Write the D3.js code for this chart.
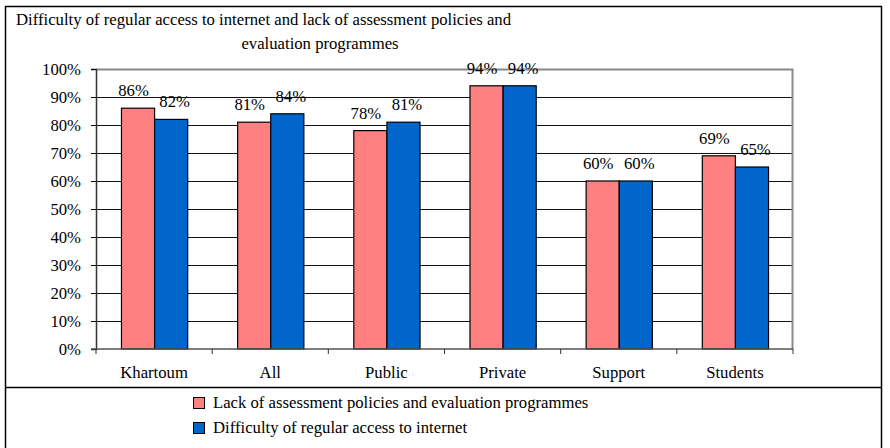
<!DOCTYPE html>
<html>
<head>
<meta charset="utf-8">
<script src="https://cdn.jsdelivr.net/npm/d3@7"></script>
<style>
  body { margin: 0; background: #fff; }
</style>
</head>
<body>
<svg id="chart" width="890" height="448" font-family="'Liberation Serif', 'DejaVu Serif', serif"></svg>
<script>
// data
const categories = ["Khartoum", "All", "Public", "Private", "Support", "Students"];
const seriesNames = ["Lack of assessment policies and evaluation programmes", "Difficulty of regular access to internet"];
const lackValues = [86, 81, 78, 94, 60, 69];
const accessValues = [82, 84, 81, 94, 60, 65];
const yTicks = [0, 10, 20, 30, 40, 50, 60, 70, 80, 90, 100];
const colors = ["#FF8080", "#0066CC"];

const FONT = "Liberation Serif";
const FS = 16.7;

const svg = d3.select("#chart");
const plotLeft = 96, plotRight = 793, plotTop = 69, plotBottom = 349;

// outer frame + legend separator
svg.append("rect").attr("x", 5.5).attr("y", 6.5).attr("width", 876).attr("height", 450)
    .attr("fill", "none").attr("stroke", "#000").attr("stroke-width", 1.5);
svg.append("line").attr("x1", 5).attr("x2", 882).attr("y1", 387.5).attr("y2", 387.5)
    .attr("stroke", "#000").attr("stroke-width", 1.5);

// title
svg.append("text").attr("x", 16).attr("y", 25).attr("font-size", FS).attr("font-family", FONT)
    .text("Difficulty of regular access to internet and lack of assessment policies and");
svg.append("text").attr("x", 320).attr("y", 49).attr("font-size", FS).attr("font-family", FONT)
    .attr("text-anchor", "middle")
    .text("evaluation programmes");

const y = d3.scaleLinear().domain([0, 100]).range([plotBottom, plotTop]);
const x0 = d3.scaleBand().domain(categories).range([plotLeft, plotRight]).paddingInner(0.43).paddingOuter(0.215);
const x1 = d3.scaleBand().domain([0, 1]).range([0, x0.bandwidth()]);

// gridlines
svg.append("g").selectAll("line").data(yTicks.slice(1, -1)).join("line")
    .attr("x1", plotLeft).attr("x2", plotRight)
    .attr("y1", d => Math.round(y(d)) + 0.5).attr("y2", d => Math.round(y(d)) + 0.5)
    .attr("stroke", "#111").attr("stroke-width", 1.2);

// plot frame top/right in grey
svg.append("path")
    .attr("d", `M${plotLeft},${plotTop + 0.5}H${plotRight - 0.5}V${plotBottom}`)
    .attr("fill", "none").attr("stroke", "#888").attr("stroke-width", 2);

// bars
const rows = categories.map((c, i) => ({ cat: c, vals: [lackValues[i], accessValues[i]] }));
const groups = svg.append("g").selectAll("g").data(rows).join("g")
    .attr("transform", d => `translate(${x0(d.cat)},0)`);
groups.selectAll("rect").data(d => d.vals.map((v, k) => ({ v, k }))).join("rect")
    .attr("x", d => x1(d.k) + 0.5)
    .attr("y", d => y(d.v))
    .attr("width", x1.bandwidth())
    .attr("height", d => plotBottom - y(d.v))
    .attr("fill", d => colors[d.k])
    .attr("stroke", "#000").attr("stroke-width", 1.2);
groups.selectAll("text").data(d => d.vals.map((v, k) => ({ v, k }))).join("text")
    .attr("x", d => x1(d.k) + x1.bandwidth() / 2 + (d.k ? 4 : -4))
    .attr("y", d => y(d.v) - 12)
    .attr("text-anchor", "middle").attr("font-size", FS).attr("font-family", FONT)
    .text(d => d.v + "%");

// y axis
const yAxis = svg.append("g").attr("transform", `translate(${plotLeft},0)`)
    .call(d3.axisLeft(y).tickValues(yTicks).tickFormat(d => d + "%").tickSize(5).tickPadding(10));
yAxis.attr("font-family", FONT).attr("font-size", FS);
yAxis.select(".domain").attr("stroke", "#333").attr("stroke-width", 1.5);
yAxis.selectAll("text").attr("fill", "#000");

// x axis with ticks between categories
const xAxis = svg.append("g").attr("transform", `translate(0,${plotBottom})`);
xAxis.append("line").attr("x1", plotLeft - 5).attr("x2", plotRight).attr("y1", 0).attr("y2", 0)
    .attr("stroke", "#555").attr("stroke-width", 1.5);
const step = x0.step();
xAxis.selectAll(".tk").data(d3.range(categories.length + 1)).join("line").attr("class", "tk")
    .attr("x1", i => plotLeft + i * step).attr("x2", i => plotLeft + i * step)
    .attr("y1", 0).attr("y2", 5).attr("stroke", "#333");
xAxis.selectAll(".lb").data(categories).join("text").attr("class", "lb")
    .attr("x", d => x0(d) + x0.bandwidth() / 2).attr("y", 29)
    .attr("text-anchor", "middle").attr("font-size", FS).attr("font-family", FONT)
    .text(d => d);

// legend
const legend = svg.append("g").selectAll("g").data(seriesNames).join("g")
    .attr("transform", (d, i) => `translate(193,${397 + i * 25})`);
legend.append("rect").attr("x", 0.5).attr("y", 0.5).attr("width", 11).attr("height", 11)
    .attr("fill", (d, i) => colors[i]).attr("stroke", "#000");
legend.append("text").attr("x", 20).attr("y", 11).attr("font-size", FS).attr("font-family", FONT).text(d => d);
</script>
</body>
</html>
